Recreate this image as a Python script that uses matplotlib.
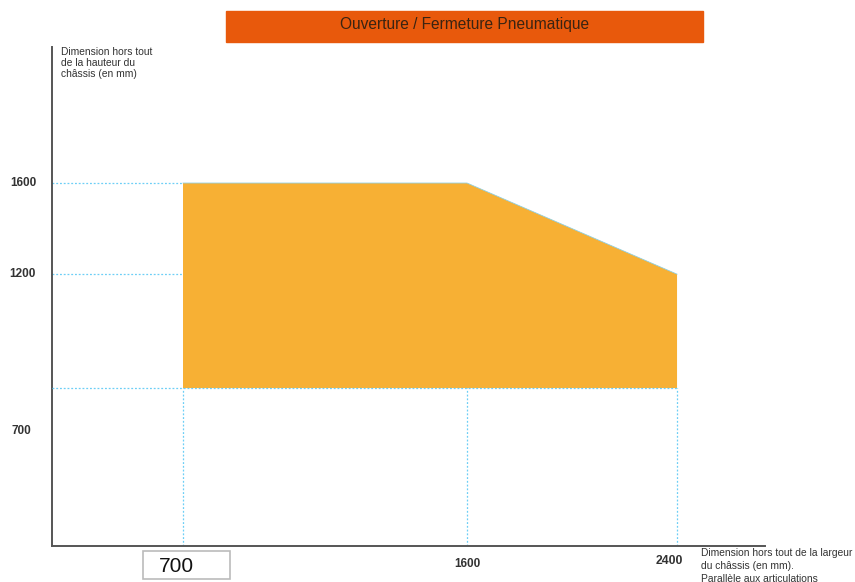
import numpy as np
import matplotlib.pyplot as plt
from matplotlib.patches import Rectangle
import matplotlib.transforms as mtransforms

plt.rcParams['font.family'] = ['Liberation Sans', 'DejaVu Sans']

# zone de fonctionnement (mm)
largeur = [700, 1600, 2400, 2400, 700]
hauteur = [1600, 1600, 1200, 700, 700]

y_ticks = [1600, 1200]
x_ticks = [1600, 2400]

titre = "Ouverture / Fermeture Pneumatique"
label_y = "Dimension hors tout\nde la hauteur du\nchâssis (en mm)"
label_x = "Dimension hors tout de la largeur\ndu châssis (en mm).\nParallèle aux articulations"

# l'axe x n'est pas lineaire sur le schema d'origine
mm_pts = [0, 700, 1600, 2400, 3000]
px_pts = [52, 183, 467, 677, 835]

def fwd(x):
    return np.interp(x, mm_pts, px_pts)

def inv(x):
    return np.interp(x, px_pts, mm_pts)

fig = plt.figure(figsize=(8.55, 5.82), dpi=100)
W, H = 855, 582
ax = fig.add_axes([52 / W, 1 - 546 / H, (765 - 52) / W, (546 - 47) / H])
ax.set_xscale('function', functions=(fwd, inv))
ax.set_xlim(0, 2734)
ax.set_ylim(7, 2197)

ax.fill(largeur, hauteur, color='#F7B034', lw=0, zorder=2)
ax.plot(largeur[:3], hauteur[:3], color='#8fcfe0', lw=0.6, zorder=3)

blue = '#6CCFF6'
for y in y_ticks:
    ax.plot([0, 700], [y, y], color=blue, ls=(0, (1.5, 1.5)), lw=0.9, zorder=1)
ax.plot([0, 2400], [700, 700], color=blue, ls=(0, (1.5, 1.5)), lw=0.9, zorder=3)
for x in [700, 1600, 2400]:
    ax.plot([x, x], [7, 700], color=blue, ls=(0, (1.5, 1.5)), lw=0.9, zorder=1)

for s in ['top', 'right']:
    ax.spines[s].set_visible(False)
for s in ['left', 'bottom']:
    ax.spines[s].set_color('#555555')
    ax.spines[s].set_linewidth(1.4)
ax.set_xticks([])
ax.set_yticks([])

# labels axe y
ylab = mtransforms.blended_transform_factory(fig.transFigure, ax.transData)
for y in y_ticks:
    ax.text(36 / W, y, str(y), transform=ylab, ha='right', va='center',
            fontsize=8.5, fontweight='bold', color='#333333')
off = mtransforms.offset_copy(ylab, fig=fig, y=-43, units='dots')
ax.text(31 / W, 700, "700", transform=off, ha='right', va='center',
        fontsize=8.5, fontweight='bold', color='#333333')

# labels axe x
xlab = mtransforms.blended_transform_factory(ax.transData, fig.transFigure)
ax.text(1600, 1 - 564 / H, str(x_ticks[0]), transform=xlab, ha='center',
        va='center', fontsize=8.5, fontweight='bold', color='#333333')
ax.text(2370, 1 - 561 / H, str(x_ticks[1]), transform=xlab, ha='center',
        va='center', fontsize=8.8, fontweight='bold', color='#333333')
fig.patches.append(Rectangle((143 / W, 1 - 579 / H), 87 / W, 28 / H,
                             transform=fig.transFigure, fill=False,
                             ec='#bbbbbb', lw=1.2))
fig.text(176 / W, 1 - 566 / H, "700", ha='center', va='center',
         fontsize=15, color='#111111')

fig.text(61 / W, 1 - 47 / H, label_y, ha='left', va='top', fontsize=7.4,
         color='#333333', linespacing=1.1)
fig.text(701 / W, 1 - 548 / H, label_x, ha='left', va='top', fontsize=7.4,
         color='#333333', linespacing=1.35)

# titre
fig.patches.append(Rectangle((226 / W, 1 - 42 / H), 477 / W, 31 / H,
                             transform=fig.transFigure, color='#E8590C'))
fig.text(465 / W, 1 - 24 / H, titre, ha='center', va='center',
         fontsize=11.2, color='#3a2412')

fig.savefig('out.png', dpi=100)
